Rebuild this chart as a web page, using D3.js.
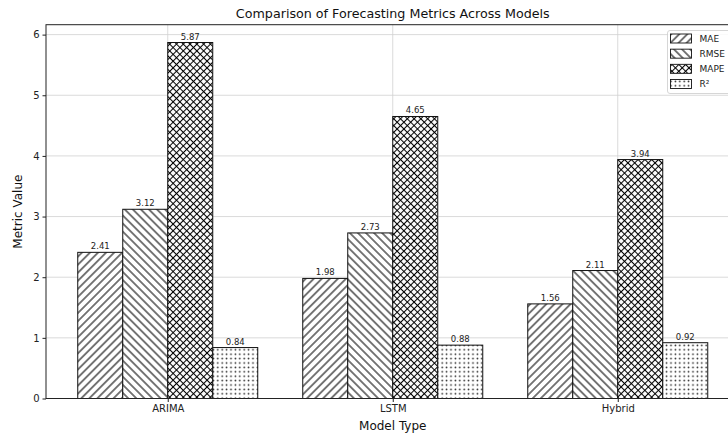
<!DOCTYPE html>
<html><head><meta charset="utf-8">
<script src="https://cdn.jsdelivr.net/npm/d3@7"></script>
<style>
html,body{margin:0;padding:0;background:#fff;overflow:hidden}
text{font-family:"DejaVu Sans",sans-serif}
</style></head>
<body>
<svg id="c" width="728" height="436"></svg>
<script>
const models = ["ARIMA","LSTM","Hybrid"];
const metrics = ["MAE","RMSE","MAPE","R²"];
const maeValues  = [2.41, 1.98, 1.56];
const rmseValues = [3.12, 2.73, 2.11];
const mapeValues = [5.87, 4.65, 3.94];
const r2Values   = [0.84, 0.88, 0.92];
const yTicks = [0,1,2,3,4,5,6];
const seriesValues = [maeValues, rmseValues, mapeValues, r2Values];
const patternIds = ["hMAE","hRMSE","hMAPE","hR2"];

const svg = d3.select("#c");
const L = 46, R = 739.5, T = 24.7, B = 398.5;

const defs = svg.append("defs");
function linePattern(id, angle, sp, cross){
  const p = defs.append("pattern").attr("id", id).attr("patternUnits","userSpaceOnUse")
    .attr("width", sp).attr("height", sp).attr("patternTransform", `rotate(${angle})`);
  p.append("rect").attr("width", sp).attr("height", sp).attr("fill","#fff");
  p.append("line").attr("x1", sp/2).attr("x2", sp/2).attr("y1", -1).attr("y2", sp+1)
    .attr("stroke","#000").attr("stroke-width",1.05);
  if (cross) p.append("line").attr("y1", sp/2).attr("y2", sp/2).attr("x1", -1).attr("x2", sp+1)
    .attr("stroke","#000").attr("stroke-width",1.05);
}
linePattern("hMAE", 45, 5.7, false);
linePattern("hRMSE", -45, 5.7, false);
linePattern("hMAPE", 45, 4.8, true);
{
  const s = 4.4;
  const p = defs.append("pattern").attr("id","hR2").attr("patternUnits","userSpaceOnUse")
    .attr("width", s).attr("height", s);
  p.append("rect").attr("width", s).attr("height", s).attr("fill","#fff");
  p.append("circle").attr("cx", s/2).attr("cy", s/2).attr("r", 0.85).attr("fill","#222");
}

const x0 = d3.scaleBand().domain(models).range([L, R]).paddingInner(0.2).paddingOuter(0.1411);
const x1 = d3.scaleBand().domain(metrics).range([0, x0.bandwidth()]).padding(0);
const y = d3.scaleLinear().domain([0, 6.1635]).range([B, T]);

// grid
const g = svg.append("g");
g.selectAll(".gy").data(yTicks).join("line")
  .attr("x1", L).attr("x2", R).attr("y1", d=>y(d)).attr("y2", d=>y(d))
  .attr("stroke","#d0d0d0").attr("stroke-width",0.8);
g.selectAll(".gx").data(models).join("line")
  .attr("x1", d=>x0(d)+x0.bandwidth()/2).attr("x2", d=>x0(d)+x0.bandwidth()/2)
  .attr("y1", T).attr("y2", B).attr("stroke","#d0d0d0").attr("stroke-width",0.8);

// bars
const bars = svg.append("g");
metrics.forEach((m, mi) => {
  const vals = seriesValues[mi];
  bars.selectAll(null).data(models).join("rect")
    .attr("x", d => x0(d) + x1(m))
    .attr("y", (d,i) => y(vals[i]))
    .attr("width", x1.bandwidth())
    .attr("height", (d,i) => B - y(vals[i]))
    .attr("fill", `url(#${patternIds[mi]})`)
    .attr("stroke","#111").attr("stroke-width",1);
  bars.selectAll(null).data(models).join("text")
    .attr("x", d => x0(d) + x1(m) + x1.bandwidth()/2)
    .attr("y", (d,i) => y(vals[i]) - 3)
    .attr("text-anchor","middle").attr("font-size", 8.5).attr("fill","#222")
    .text((d,i) => vals[i].toFixed(2));
});

// axes
const xAxis = d3.axisBottom(d3.scalePoint().domain(models).range([x0(models[0])+x0.bandwidth()/2, x0(models[2])+x0.bandwidth()/2]))
  .tickSize(3.5).tickPadding(3);
const gx = svg.append("g").attr("transform", `translate(0,${B})`).call(xAxis);
gx.select(".domain").remove();
gx.selectAll("text").attr("font-size",10).attr("fill","#222").attr("font-family","DejaVu Sans");
gx.selectAll("line").attr("stroke","#222");

const yAxis = d3.axisLeft(y).tickValues(yTicks).tickFormat(d3.format("d")).tickSize(3.5).tickPadding(3);
const gy = svg.append("g").attr("transform", `translate(${L},0)`).call(yAxis);
gy.select(".domain").remove();
gy.selectAll("text").attr("font-size",10).attr("fill","#222").attr("font-family","DejaVu Sans");
gy.selectAll("line").attr("stroke","#222");

// spines
svg.append("rect").attr("x", L).attr("y", T).attr("width", R-L).attr("height", B-T)
  .attr("fill","none").attr("stroke","#222").attr("stroke-width",1);

// title & labels
svg.append("text").attr("x", (L+R)/2).attr("y", 18).attr("text-anchor","middle")
  .attr("font-size",12.7).attr("fill","#111").text("Comparison of Forecasting Metrics Across Models");
svg.append("text").attr("x", (L+R)/2).attr("y", 430).attr("text-anchor","middle")
  .attr("font-size",12).attr("fill","#111").text("Model Type");
svg.append("text").attr("transform", `translate(22,${(T+B)/2}) rotate(-90)`).attr("text-anchor","middle")
  .attr("font-size",12).attr("fill","#111").text("Metric Value");

// legend
const lg = svg.append("g");
lg.append("rect").attr("x", 667.5).attr("y", 30.5).attr("width", 80).attr("height", 63).attr("rx",2.5)
  .attr("fill","#fff").attr("fill-opacity",0.85).attr("stroke","#ccc").attr("stroke-width",0.8);
const ly = d3.scalePoint().domain(metrics).range([38.5, 84]);
metrics.forEach((m, mi) => {
  lg.append("rect").attr("x", 670.5).attr("y", ly(m)-4.5).attr("width", 21).attr("height", 9)
    .attr("fill", `url(#${patternIds[mi]})`).attr("stroke","#111").attr("stroke-width",0.9);
  lg.append("text").attr("x", 699.5).attr("y", ly(m)+3.2).attr("font-size",9).attr("fill","#222").text(m);
});
</script>
</body></html>
